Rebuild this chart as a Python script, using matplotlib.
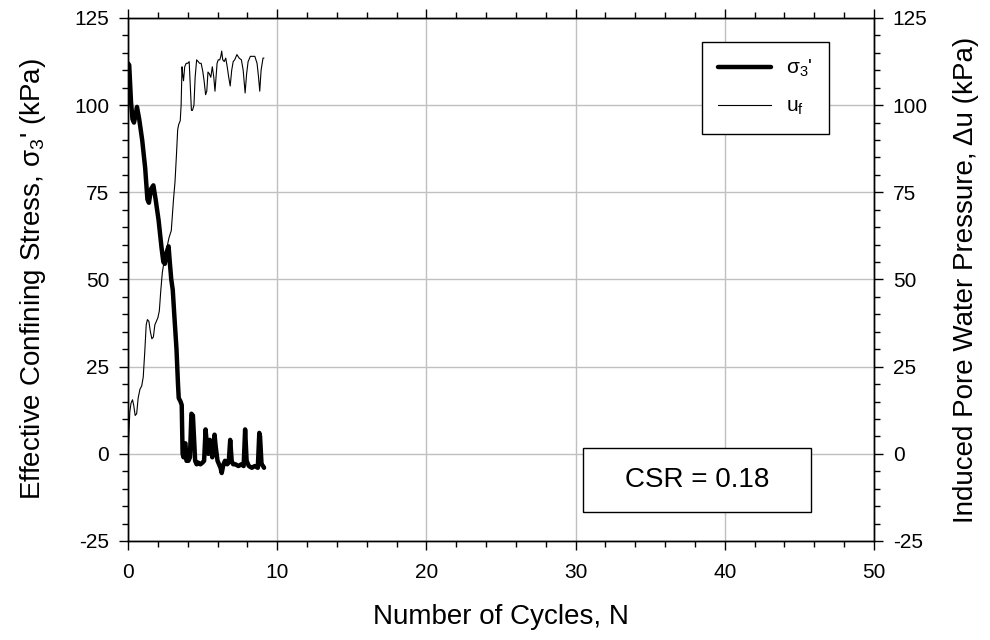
import matplotlib
matplotlib.use("Agg")
import matplotlib.pyplot as plt
from matplotlib.patches import Rectangle
from matplotlib.ticker import MultipleLocator

plt.rcParams['font.family'] = ['Liberation Sans', 'DejaVu Sans']
plt.rcParams['mathtext.fontset'] = 'custom'
plt.rcParams['mathtext.rm'] = 'Liberation Sans'
plt.rcParams['mathtext.it'] = 'Liberation Sans'
plt.rcParams['axes.unicode_minus'] = False

# effective confining stress vs cycles
cyc_sig = [0, 0.08, 0.2, 0.3, 0.4, 0.5, 0.6, 0.75, 0.95, 1.15,
           1.3, 1.4, 1.55, 1.7, 1.85, 2.05, 2.25, 2.37, 2.47, 2.6,
           2.72, 2.8, 2.9, 3.0, 3.1, 3.25, 3.35, 3.4, 3.52, 3.6,
           3.66, 3.72, 3.8, 3.85, 3.92, 4.05, 4.15, 4.25, 4.35, 4.42,
           4.5, 4.6, 4.7, 4.85, 5.0, 5.1, 5.2, 5.3, 5.38, 5.48,
           5.55, 5.65, 5.8, 5.88, 6.0, 6.1, 6.2, 6.28, 6.4, 6.5,
           6.65, 6.75, 6.85, 6.95, 7.05, 7.2, 7.4, 7.6, 7.75, 7.85,
           7.95, 8.1, 8.3, 8.5, 8.7, 8.8, 8.85, 8.95, 9.05, 9.12]
sig3 = [112, 111.5, 101, 96, 95, 97, 99.5, 96, 90, 82,
        73, 72, 76, 77, 73, 67, 59, 55, 54.5, 58,
        59.5, 55, 50, 47, 40, 30, 20, 16, 15, 14,
        0, -1, 3, 3, -2, -2, -1, 11.5, 11, 5,
        -2, -3, -2.5, -3, -2.5, -2, 7, 2, 0, 4,
        2, -1, 5.5, 2, -2, -3, -4, -5.5, -3, -2,
        -3, -2.5, 4, -2, -3, -3, -3.5, -3, -3.5, 7,
        -2, -3.5, -4, -3.5, -4, 6, 5, -3, -3.5, -4]

# induced pore water pressure vs cycles
cyc_u = [0, 0.05, 0.12, 0.2, 0.3, 0.38, 0.48, 0.58, 0.68, 0.8,
         0.92, 1.02, 1.12, 1.22, 1.3, 1.4, 1.5, 1.6, 1.7, 1.8,
         1.9, 2.0, 2.1, 2.2, 2.3, 2.45, 2.6, 2.75, 2.9, 3.0,
         3.05, 3.15, 3.25, 3.33, 3.4, 3.5, 3.56, 3.62, 3.66, 3.72,
         3.8, 3.9, 4.0, 4.1, 4.18, 4.25, 4.32, 4.42, 4.5, 4.6,
         4.7, 4.8, 4.9, 5.0, 5.1, 5.2, 5.28, 5.36, 5.45, 5.55,
         5.65, 5.75, 5.83, 5.9, 5.97, 6.05, 6.15, 6.22, 6.28, 6.35,
         6.45, 6.55, 6.65, 6.75, 6.85, 6.95, 7.05, 7.15, 7.3, 7.45,
         7.6, 7.72, 7.85, 7.95, 8.05, 8.2, 8.35, 8.5, 8.65, 8.75,
         8.83, 8.92, 9.05, 9.1]
u_f = [-2, 5, 12, 14.5, 15.5, 14, 11, 11.5, 16, 18.5,
       19.5, 22, 29, 37, 38.5, 38, 35, 33, 33.5, 37,
       38, 39, 41, 47, 52, 56, 59, 62, 64, 70,
       73, 78, 86, 93, 94.5, 95.5, 100, 111, 109, 107,
       111, 112, 112, 112.5, 105, 98.5, 98.5, 100, 108, 113,
       112.5, 112, 112, 110, 107, 103, 104, 109.5, 109, 108,
       111, 108, 104, 108, 112, 113, 113, 114, 115.5, 113,
       112.5, 113.5, 111, 108, 105.5, 110, 112.5, 113, 114.5, 113.5,
       113, 110, 103.5, 109, 112.5, 114, 114, 114, 112, 108,
       104, 110, 113.5, 113.5]

fig = plt.figure(figsize=(9.9, 6.4), dpi=100)
ax = fig.add_axes([0.1293, 0.1547, 0.7535, 0.8172])
ax2 = ax.twinx()

l1, = ax.plot(cyc_sig, sig3, color='black', lw=3.2, solid_joinstyle='round',
              solid_capstyle='round', zorder=3)
l2, = ax2.plot(cyc_u, u_f, color='black', lw=0.8, zorder=3)

for a in (ax, ax2):
    a.set_ylim(-25, 125)
    a.yaxis.set_major_locator(MultipleLocator(25))
    a.yaxis.set_minor_locator(MultipleLocator(5))
ax.set_xlim(0, 50)
ax.xaxis.set_major_locator(MultipleLocator(10))
ax.xaxis.set_minor_locator(MultipleLocator(2))

ax.grid(True, which='major', color='#c0c0c0', lw=1.0, zorder=0)
ax.set_axisbelow(True)

ax.tick_params(which='both', direction='out', top=True, labelsize=15,
               width=1, color='black')
ax.tick_params(which='major', length=6.5)
ax.tick_params(which='minor', length=4)
ax.tick_params(axis='x', pad=9)
ax.tick_params(axis='y', pad=7)
ax2.tick_params(which='both', direction='out', labelsize=15, width=1, pad=7)
ax2.tick_params(which='major', length=6.5)
ax2.tick_params(which='minor', length=4)

ax.set_xlabel('Number of Cycles, N', fontsize=20, labelpad=16)
ax.set_ylabel("Effective Confining Stress, σ$_3$' (kPa)", fontsize=20, labelpad=19)
ax2.set_ylabel('Induced Pore Water Pressure, Δu (kPa)', fontsize=20, labelpad=18)

for a in (ax, ax2):
    for s in a.spines.values():
        s.set_linewidth(1.0)
        s.set_color('black')

leg = ax2.legend([l1, l2], ["σ$_3$'", 'u$_\\mathrm{f}$'], loc='upper right',
                 bbox_to_anchor=(0.94, 0.955), fontsize=15, frameon=True,
                 fancybox=False, framealpha=1, edgecolor='black',
                 handlelength=2.55, handletextpad=0.7, labelspacing=0.85,
                 borderpad=0.8, borderaxespad=0)
leg.get_frame().set_linewidth(1.0)

ax2.add_patch(Rectangle((0.61, 0.055), 0.306, 0.123, transform=ax2.transAxes,
                        facecolor='white', edgecolor='black', lw=1.0, zorder=5))
ax2.text(0.763, 0.117, 'CSR = 0.18', transform=ax2.transAxes, fontsize=20,
         ha='center', va='center', zorder=6)

fig.savefig('out.png', dpi=100)
